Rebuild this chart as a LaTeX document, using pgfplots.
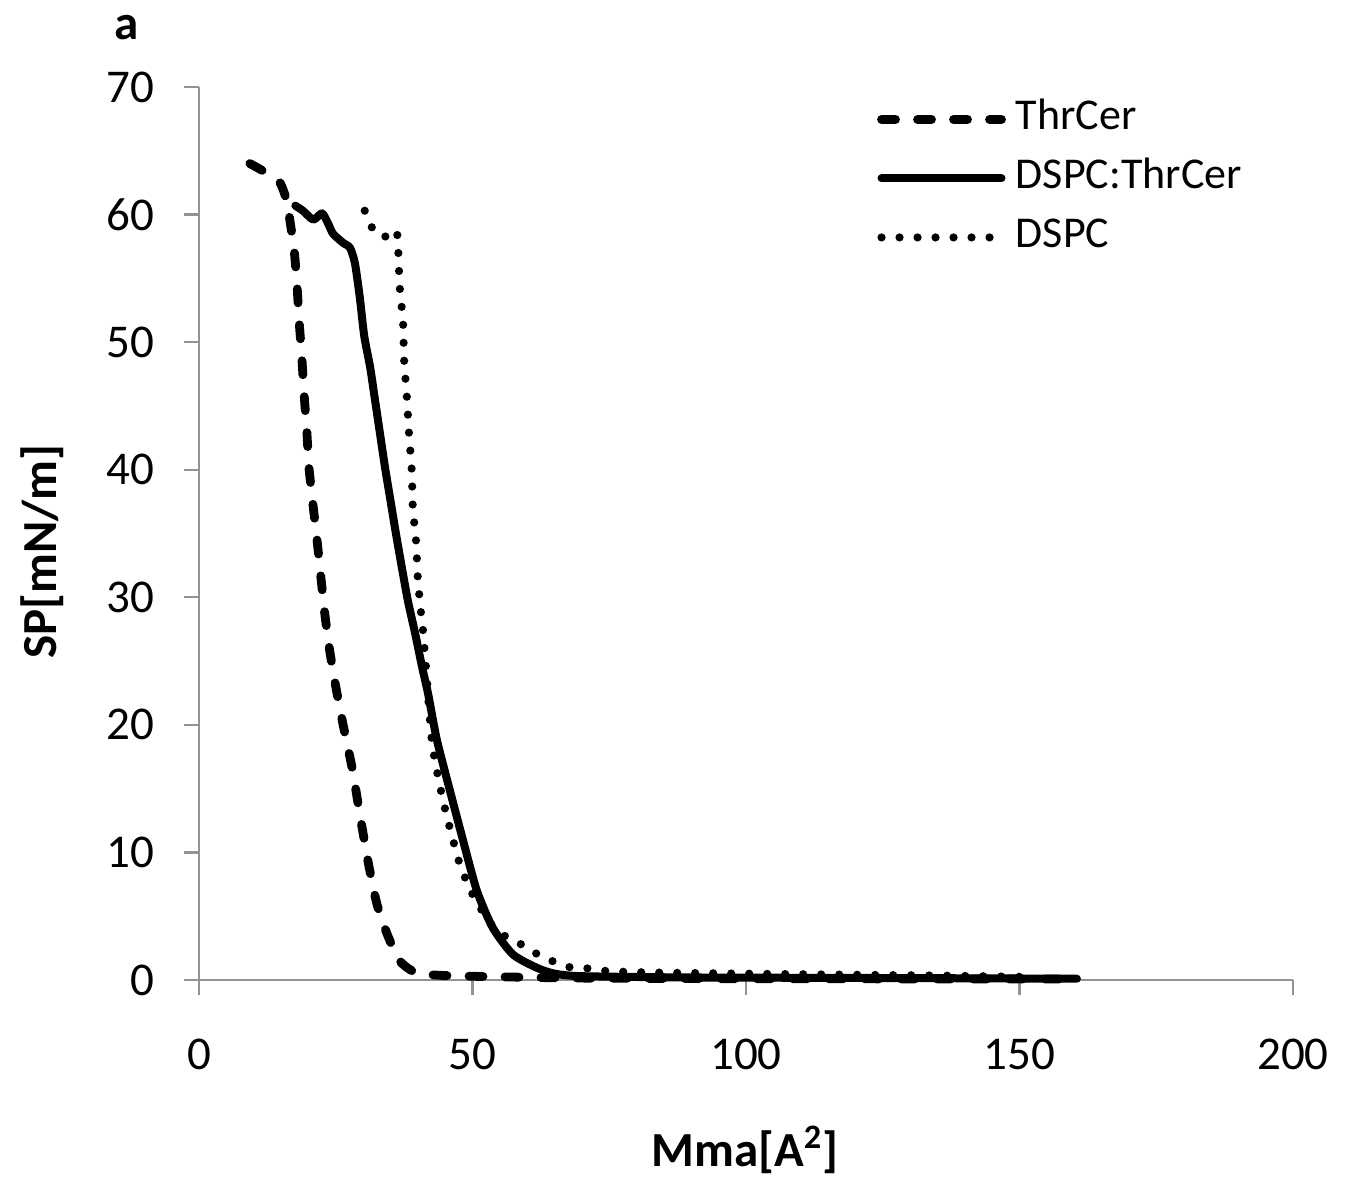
\documentclass[border=0pt]{standalone}
\usepackage{pgfplots}
\pgfplotsset{compat=1.18}
\usepackage{fontspec}
\setmainfont{Carlito}
\pgfplotstableread{
x y
9.3 64.0
12.6 63.2
14.8 62.5
16.1 61.0
16.6 59.6
17.4 57.2
17.9 54.6
18.3 51.7
18.8 48.8
19.2 46.0
19.7 43.1
20.1 40.2
20.8 37.4
21.6 34.4
22.3 31.5
23.0 28.7
23.9 25.8
25.0 23.0
26.3 20.1
28.0 16.6
29.4 13.0
30.9 9.3
32.5 6.0
34.4 3.6
36.7 1.5
39.8 0.55
45 0.35
55 0.25
70 0.15
100 0.1
160 0.08
}\thrcer
\pgfplotstableread{
x y
17.6 60.7
19.0 60.3
20.9 59.6
22.5 60.1
23.6 59.3
24.5 58.5
26.3 57.8
27.6 57.4
28.5 56.2
29.4 53.5
30.2 50.5
31.3 48.0
32.2 45.4
33.1 42.8
34.0 40.2
35.0 37.6
36.0 35.0
37.1 32.3
38.2 29.7
39.5 27.2
40.8 24.5
41.9 22.4
43.5 18.8
45.9 14.8
48.3 10.9
50.8 7.0
53.7 4.1
57.4 2.0
61.8 0.95
65 0.5
70 0.3
90 0.2
130 0.15
160.5 0.1
}\mix
\pgfplotstableread{
x y
30.3 60.3
31.6 59.0
33.6 58.2
36.0 58.8
36.4 57.4
36.7 54.3
37.3 51.6
37.5 48.6
38.0 45.7
38.4 42.8
38.9 39.9
39.1 37.0
39.7 34.3
40.0 31.5
40.6 28.7
41.0 27.2
41.5 24.5
42.6 18.6
44.5 14.3
46.3 11.2
47.9 8.8
50.5 6.3
54.3 3.9
58.1 3.0
61.1 2.2
64.5 1.5
67.8 1.0
71.3 0.9
74.6 0.7
81.7 0.6
99.5 0.5
123 0.4
135 0.35
150 0.25
}\dspc
\begin{document}
\begin{tikzpicture}
\useasboundingbox (-99.5pt,-98.5pt) rectangle (578pt,490pt);
\begin{axis}[
  at={(0,0)}, anchor=south west,
  scale only axis, width=547pt, height=446.5pt,
  xmin=0, xmax=200, ymin=0, ymax=70,
  axis lines=left,
  axis line style={-, draw=gray!85, line width=1.2pt},
  tick style={draw=gray!85, line width=1.2pt},
  tick align=outside, major tick length=7.5pt,
  xtick={0,50,100,150,200}, ytick={0,10,...,70},
  /pgf/number format/assume math mode=true,
  ticklabel style={font=\fontsize{23.5}{23.5}\selectfont},
  xticklabel style={yshift=-18.5pt},
  yticklabel style={xshift=-11.5pt},
  clip=false,
  every axis x label/.style={at={(axis description cs:0.499,-0.19)}, anchor=center, font=\bfseries\fontsize{24.5}{24.5}\selectfont},
  every axis y label/.style={at={(axis description cs:-0.1435,0.48)}, anchor=center, rotate=90, font=\bfseries\fontsize{24.5}{24.5}\selectfont},
  xlabel={Mma[A\textsuperscript{2}]},
  ylabel={SP[mN/m]},
  legend style={draw=none, fill=none, at={(axis cs:123.9,68.9)}, anchor=north west,
    font=\fontsize{22}{22}\selectfont, inner sep=0pt, row sep=11.5pt, column sep=5pt,
    nodes={inner sep=0pt, text height=14pt, text depth=4pt}},
  legend cell align=left,
  legend image code/.code={\draw[#1] (2pt,0pt) -- (62pt,0pt);},
]
\addplot[black, line width=4.4pt, line cap=round, dash pattern=on 7pt off 11pt, smooth, tension=0.4] table {\thrcer};
\addlegendentry{ThrCer}
\addplot[black, line width=4pt, line cap=round, line join=round, smooth, tension=0.4] table {\mix};
\addlegendentry{DSPC:ThrCer}
\addplot[black, line width=4.1pt, line cap=round, dash pattern=on 0pt off 9pt, smooth, tension=0.4] table {\dspc};
\addlegendentry{DSPC}
\node[font=\bfseries\fontsize{24.5}{24.5}\selectfont] at (axis description cs:-0.0658,1.067) {a};
\end{axis}
\end{tikzpicture}
\end{document}
